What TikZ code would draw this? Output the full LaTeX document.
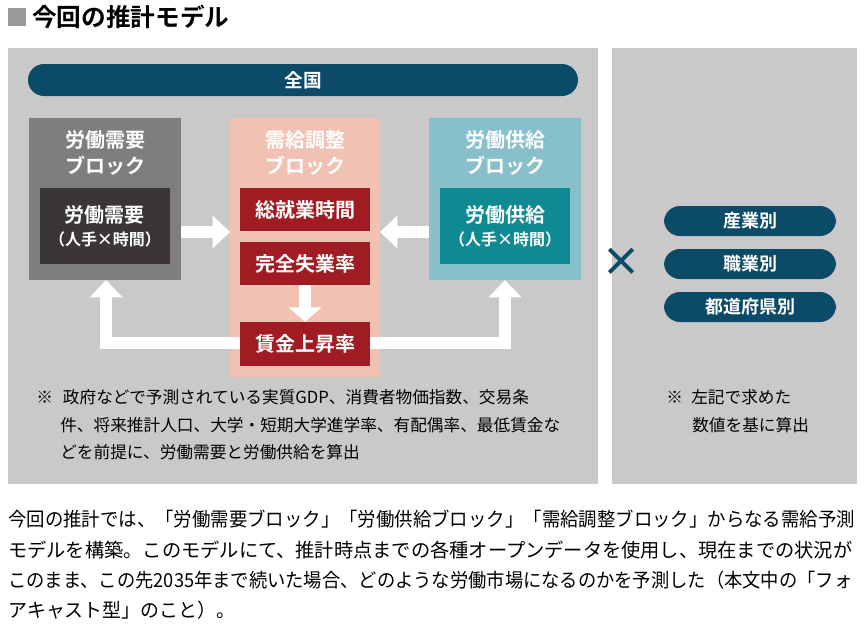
\documentclass[tikz,border=0pt]{standalone}
\usepackage{fontspec}
\usepackage{graphicx}
\setmainfont{Noto Sans CJK JP}
\newfontfamily\jpb{Noto Sans CJK JP Bold}
\usetikzlibrary{arrows.meta}
\definecolor{panel}{HTML}{C9C9C9}
\definecolor{navy}{HTML}{0B4B68}
\definecolor{dgrey}{HTML}{7E7E7E}
\definecolor{dkbox}{HTML}{3A3636}
\definecolor{pinkb}{HTML}{F1C2B3}
\definecolor{redb}{HTML}{A01C22}
\definecolor{lteal}{HTML}{87BFCA}
\definecolor{teal}{HTML}{108A92}
\begin{document}
\begin{tikzpicture}[x=0.75pt,y=-0.75pt,
  lbl/.style={text=white,font=\jpb\fontsize{15}{19}\selectfont,align=center},
  pill/.style={fill=navy,rounded corners=12pt,draw=none},
  warrow/.style={draw=white,line width=8.5pt,-{Triangle[length=13pt,width=24pt]}},
  note/.style={anchor=west,font=\fontsize{12.5}{15}\selectfont,inner sep=0pt},
  para/.style={anchor=west,font=\fontsize{14.5}{17}\selectfont,inner sep=0pt}]
\useasboundingbox (0,0) rectangle (865,640);
\fill[white] (0,0) rectangle (865,640);
% title
\fill[gray!80] (8,8) rectangle (26,26);
\node[anchor=west,inner sep=0pt,font=\jpb\fontsize{18.5}{20}\selectfont] (title) at (32,17) {今回の推計モデル};
% panels
\fill[panel] (8,48) rectangle (598,484);
\fill[panel] (612,48) rectangle (857,484);
% zenkoku
\fill[pill] (28,64) rectangle (578,96);
\node[lbl,font=\jpb\fontsize{14}{16}\selectfont] (zk) at (303,80) {全国};
% left block
\fill[dgrey] (29,118) rectangle (181,280);
\node[lbl] (lt) at (105,153) {労働需要\\ブロック};
\fill[dkbox] (40,188) rectangle (170,264);
\node[lbl,inner sep=0pt] (ld) at (105,226) {労働需要\\[-2pt]{\fontsize{12}{14}\selectfont（人手×時間）}};
% middle block
\fill[pinkb] (230,118) rectangle (380,377);
\node[lbl] (mt) at (305,153) {需給調整\\ブロック};
\fill[redb] (240,188) rectangle (370,231);
\node[lbl] (m1) at (305,210) {総就業時間};
\fill[redb] (240,242) rectangle (370,285);
\node[lbl] (m2) at (305,264) {完全失業率};
\fill[redb] (240,322) rectangle (370,366);
\node[lbl] (m3) at (305,344) {賃金上昇率};
% right block
\fill[lteal] (429,118) rectangle (581,280);
\node[lbl] (rt) at (505,153) {労働供給\\ブロック};
\fill[teal] (440,188) rectangle (570,264);
\node[lbl,inner sep=0pt] (rd) at (505,226) {労働供給\\[-2pt]{\fontsize{12}{14}\selectfont（人手×時間）}};
% arrows
\coordinate (a1s) at (181,232); \coordinate (a1e) at (230,232);
\draw[warrow] (a1s) -- (a1e);
\coordinate (a2s) at (429,232); \coordinate (a2e) at (380,232);
\draw[warrow] (a2s) -- (a2e);
\coordinate (a3s) at (305,285); \coordinate (a3e) at (305,322);
\draw[warrow,-{Triangle[length=11pt,width=24pt]}] (a3s) -- (a3e);
\coordinate (a4s) at (240,343); \coordinate (a4m) at (106,343); \coordinate (a4e) at (106,280);
\draw[warrow] (a4s) -- (a4m) -- (a4e);
\coordinate (a5s) at (370,343); \coordinate (a5m) at (505,343); \coordinate (a5e) at (505,280);
\draw[warrow] (a5s) -- (a5m) -- (a5e);
% cross
\node[text=navy,font=\jpb\fontsize{30}{30}\selectfont] (x) at (621,262) {×};
% right pills
\fill[pill] (664,206) rectangle (836,236);
\node[lbl,font=\jpb\fontsize{13.5}{15}\selectfont] (p1) at (750,221) {産業別};
\fill[pill] (664,249) rectangle (836,279);
\node[lbl,font=\jpb\fontsize{13.5}{15}\selectfont] (p2) at (750,264) {職業別};
\fill[pill] (664,292) rectangle (836,322);
\node[lbl,font=\jpb\fontsize{13.5}{15}\selectfont] (p3) at (750,307) {都道府県別};
% notes
\node[note] (n1) at (36,397) {※\hspace{0.6em}政府などで予測されている実質GDP、消費者物価指数、交易条};
\node[note] (n2) at (60,425) {件、将来推計人口、大学・短期大学進学率、有配偶率、最低賃金な};
\node[note] (n3) at (60,452) {どを前提に、労働需要と労働供給を算出};
\node[note] (n4) at (666,397) {※\hspace{0.5em}左記で求めた};
\node[note] (n5) at (692,425) {数値を基に算出};
% paragraph
\node[para] (t1) at (8,519) {\resizebox{635pt}{\height}{今回の推計では、「労働需要ブロック」「労働供給ブロック」「需給調整ブロック」からなる需給予測}};
\node[para] (t2) at (8,550) {\resizebox{633pt}{\height}{モデルを構築。このモデルにて、推計時点までの各種オープンデータを使用し、現在までの状況が}};
\node[para] (t3) at (8,580) {\resizebox{633pt}{\height}{このまま、この先2035年まで続いた場合、どのような労働市場になるのかを予測した（本文中の「フォ}};
\node[para] (t4) at (8,610) {\resizebox{170pt}{\height}{アキャスト型」のこと）。}};
\end{tikzpicture}
\end{document}
